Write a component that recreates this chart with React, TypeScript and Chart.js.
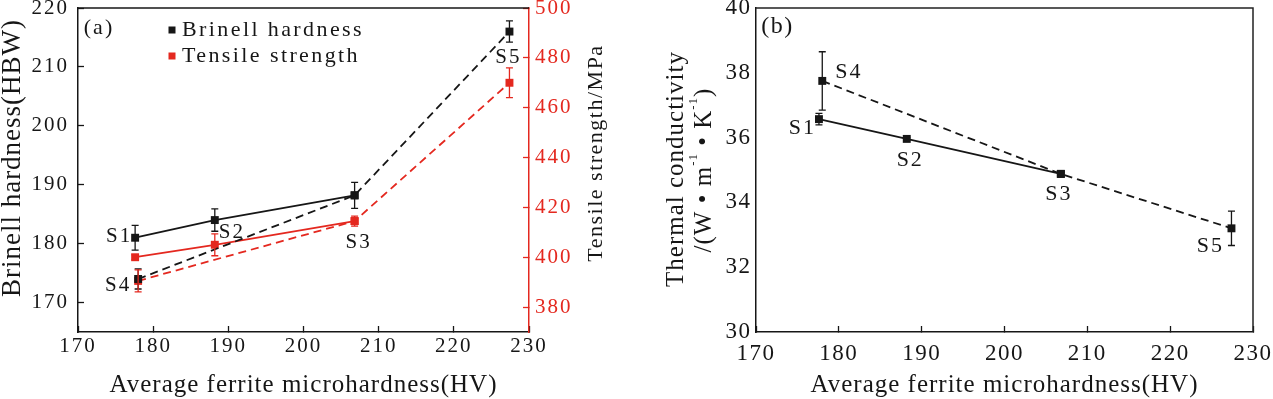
import React, { useEffect, useRef } from 'react';
import { Chart, registerables } from 'chart.js';

Chart.register(...registerables);

// ---------------- data ----------------
const samples = ['S1', 'S2', 'S3', 'S4', 'S5'];
const ferriteHV = [177.6, 188.2, 206.8, 178.0, 227.4];
const brinellHBW = [181.0, 184.0, 188.2, 174.0, 216.0];
const brinellErr = [2.1, 1.9, 2.2, 1.7, 1.8];
const tensileMPa = [400.0, 405.0, 414.5, 390.5, 470.0];
const tensileErr = [1.0, 4.4, 2.0, 4.4, 6.0];
const thermalCond = [36.57, 35.96, 34.88, 37.75, 33.2];
const thermalErr = [0.18, 0.05, 0.05, 0.9, 0.53];
const solidRoute = [0, 1, 2]; // S1 - S2 - S3
const dashedRoute = [3, 2, 4]; // S4 - S3 - S5
const hvTicks = [170, 180, 190, 200, 210, 220, 230];
const hbwTicks = [170, 180, 190, 200, 210, 220];
const mpaTicks = [380, 400, 420, 440, 460, 480, 500];
const tcTicks = [30, 32, 34, 36, 38, 40];

// ---------------- styles ----------------
const FONT = '"Liberation Serif", "Times New Roman", serif';
const BLACK = '#161616';
const RED = '#e4281f';

const tickFont = (size: number) => ({ family: FONT, size, lineHeight: 1 });
const fixW = (w: number) => (s: any) => { s.width = w; s.paddingTop = 0; s.paddingBottom = 0; };
const fixH = (h: number) => (s: any) => { s.height = h; s.paddingLeft = 0; s.paddingRight = 0; };
const setTicks = (vals: number[]) => (s: any) => { s.ticks = vals.map((v) => ({ value: v })); };

function lineDs(route: number[], ys: number[], yAxisID: string, color: string, dashed: boolean) {
  return {
    data: route.map((i) => ({ x: ferriteHV[i], y: ys[i] })),
    yAxisID,
    borderColor: color,
    backgroundColor: color,
    borderWidth: 1.8,
    borderDash: dashed ? [8, 5] : [],
    pointStyle: 'rect',
    pointRadius: 5.6,
    pointHoverRadius: 5.6,
    pointBackgroundColor: color,
    pointBorderColor: color,
    pointBorderWidth: 0,
    tension: 0,
    fill: false,
  };
}

function drawText(ctx: any, text: string, x: number, y: number, o: any) {
  ctx.save();
  ctx.font = `${o.size}px ${FONT}`;
  ctx.fillStyle = o.color || BLACK;
  ctx.textAlign = o.align || 'center';
  ctx.textBaseline = 'middle';
  ctx.letterSpacing = `${o.spacing ?? 1}px`;
  ctx.translate(x, y);
  if (o.rot) ctx.rotate(o.rot);
  ctx.fillText(text, 0, 0);
  ctx.restore();
}

function drawRich(ctx: any, segs: { t: string; sup?: boolean }[], x: number, y: number, size: number, rot: number, spacing: number) {
  ctx.save();
  ctx.translate(x, y);
  ctx.rotate(rot);
  ctx.textBaseline = 'middle';
  ctx.textAlign = 'left';
  ctx.fillStyle = BLACK;
  ctx.letterSpacing = `${spacing}px`;
  const fontOf = (s: any) => `${s.sup ? Math.round(size * 0.5) : size}px ${FONT}`;
  const widths = segs.map((s) => { ctx.font = fontOf(s); return ctx.measureText(s.t).width; });
  const total = widths.reduce((a, b) => a + b, 0);
  let cx = -total / 2;
  segs.forEach((s, i) => {
    ctx.font = fontOf(s);
    ctx.fillText(s.t, cx, s.sup ? -size * 0.42 : 0);
    cx += widths[i];
  });
  ctx.restore();
}

function drawErrBars(chart: any, yId: string, vals: number[], errs: number[], color: string) {
  const ctx = chart.ctx;
  const xs = chart.scales.x;
  const ys = chart.scales[yId];
  ctx.save();
  ctx.strokeStyle = color;
  ctx.lineWidth = 1.3;
  vals.forEach((v, i) => {
    const px = xs.getPixelForValue(ferriteHV[i]);
    const top = ys.getPixelForValue(v + errs[i]);
    const bot = ys.getPixelForValue(v - errs[i]);
    ctx.beginPath();
    ctx.moveTo(px, top); ctx.lineTo(px, bot);
    ctx.moveTo(px - 3.5, top); ctx.lineTo(px + 3.5, top);
    ctx.moveTo(px - 3.5, bot); ctx.lineTo(px + 3.5, bot);
    ctx.stroke();
  });
  ctx.restore();
}

const labelPosA = [
  { dx: -3, dy: -1, align: 'right' },
  { dx: 4, dy: 12, align: 'left' },
  { dx: 4, dy: 47, align: 'center' },
  { dx: -7, dy: 7, align: 'right' },
  { dx: -1, dy: 26, align: 'center' },
];
const labelPosB = [
  { dx: -3, dy: 9, align: 'right' },
  { dx: 3.5, dy: 21, align: 'center' },
  { dx: -2, dy: 20, align: 'center' },
  { dx: 13, dy: -9, align: 'left' },
  { dx: -21, dy: 18, align: 'center' },
];

function makeA(canvas: HTMLCanvasElement, W: number) {
  return new Chart(canvas, {
    type: 'line',
    data: {
      datasets: [
        lineDs(solidRoute, brinellHBW, 'y', BLACK, false),
        lineDs(dashedRoute, brinellHBW, 'y', BLACK, true),
        lineDs(solidRoute, tensileMPa, 'y2', RED, false),
        lineDs(dashedRoute, tensileMPa, 'y2', RED, true),
      ] as any,
    },
    options: {
      responsive: false,
      animation: false,
      events: [],
      layout: { padding: { top: 8, left: 0, right: 0, bottom: 0 } },
      plugins: { legend: { display: false }, tooltip: { enabled: false } },
      scales: {
        x: {
          type: 'linear', position: 'bottom', min: 170, max: 230,
          afterBuildTicks: setTicks(hvTicks), afterFit: fixH(67),
          border: { display: true, color: BLACK, width: 1.5 },
          grid: { display: true, drawOnChartArea: false, drawTicks: true, tickLength: -6, tickColor: BLACK, tickWidth: 1.3 },
          ticks: { font: tickFont(21), color: BLACK, padding: 9.5, maxRotation: 0, autoSkip: false },
        },
        y: {
          type: 'linear', position: 'left', min: 165, max: 220,
          afterBuildTicks: setTicks(hbwTicks), afterFit: fixW(78),
          border: { display: true, color: BLACK, width: 1.5 },
          grid: { display: true, drawOnChartArea: false, drawTicks: true, tickLength: -6, tickColor: BLACK, tickWidth: 1.3 },
          ticks: { font: tickFont(21), color: BLACK, padding: 15, autoSkip: false },
        },
        y2: {
          type: 'linear', position: 'right', min: 370, max: 500,
          afterBuildTicks: setTicks(mpaTicks), afterFit: fixW(W - 529),
          border: { display: true, color: RED, width: 1.5 },
          grid: { display: true, drawOnChartArea: false, drawTicks: true, tickLength: -6, tickColor: RED, tickWidth: 1.3 },
          ticks: { font: tickFont(21), color: RED, padding: 12, autoSkip: false },
        },
      } as any,
    },
    plugins: [
      {
        id: 'decorA',
        beforeUpdate(c: any) { c.ctx.letterSpacing = '2px'; },
        beforeDraw(c: any) { c.ctx.letterSpacing = '2px'; },
        afterDatasetsDraw(c: any) {
          drawErrBars(c, 'y', brinellHBW, brinellErr, BLACK);
          drawErrBars(c, 'y2', tensileMPa, tensileErr, RED);
        },
        afterDraw(c: any) {
          const ctx = c.ctx;
          const a = c.chartArea;
          ctx.save();
          ctx.strokeStyle = BLACK;
          ctx.lineWidth = 1.5;
          ctx.beginPath();
          ctx.moveTo(a.left, a.top);
          ctx.lineTo(a.right, a.top);
          ctx.stroke();
          ctx.restore();
          // sample labels
          samples.forEach((s, i) => {
            const p = labelPosA[i];
            const px = c.scales.x.getPixelForValue(ferriteHV[i]);
            const py = c.scales.y.getPixelForValue(brinellHBW[i]);
            drawText(ctx, s, px + p.dx, py + p.dy, { size: 21, align: p.align, spacing: 2 });
          });
          // panel tag and legend
          drawText(ctx, '(a)', a.left + 21, a.top + 20, { size: 22, spacing: 2 });
          ctx.save();
          ctx.fillStyle = BLACK;
          ctx.fillRect(a.left + 90.5, a.top + 18.5, 7, 7);
          ctx.fillStyle = RED;
          ctx.fillRect(a.left + 90.5, a.top + 44.5, 7, 7);
          ctx.restore();
          drawText(ctx, 'Brinell hardness', a.left + 104, a.top + 22, { size: 22, align: 'left', spacing: 2.4 });
          drawText(ctx, 'Tensile strength', a.left + 104, a.top + 48, { size: 22, align: 'left', spacing: 2.4 });
          // axis titles
          drawText(ctx, 'Average ferrite microhardness(HV)', (a.left + a.right) / 2, 385, { size: 25, spacing: 1 });
          drawText(ctx, 'Brinell hardness(HBW)', 13, 158, { size: 27, spacing: 1, rot: -Math.PI / 2 });
          drawText(ctx, 'Tensile strength/MPa', 596, 153, { size: 22, spacing: 1.5, rot: -Math.PI / 2 });
        },
      } as any,
    ],
  });
}

function makeB(canvas: HTMLCanvasElement, W: number) {
  return new Chart(canvas, {
    type: 'line',
    data: {
      datasets: [
        lineDs(solidRoute, thermalCond, 'y', BLACK, false),
        lineDs(dashedRoute, thermalCond, 'y', BLACK, true),
      ] as any,
    },
    options: {
      responsive: false,
      animation: false,
      events: [],
      layout: { padding: { top: 8, left: 0, right: W - 617, bottom: 0 } },
      plugins: { legend: { display: false }, tooltip: { enabled: false } },
      scales: {
        x: {
          type: 'linear', position: 'bottom', min: 170, max: 230,
          afterBuildTicks: setTicks(hvTicks), afterFit: fixH(67),
          border: { display: true, color: BLACK, width: 1.5 },
          grid: { display: true, drawOnChartArea: false, drawTicks: true, tickLength: -6, tickColor: BLACK, tickWidth: 1.3 },
          ticks: { font: tickFont(23), color: BLACK, padding: 16, maxRotation: 0, autoSkip: false },
        },
        y: {
          type: 'linear', position: 'left', min: 30, max: 40,
          afterBuildTicks: setTicks(tcTicks), afterFit: fixW(120),
          border: { display: true, color: BLACK, width: 1.5 },
          grid: { display: false, drawOnChartArea: false, drawTicks: false },
          ticks: { font: tickFont(23), color: BLACK, padding: 4.5, autoSkip: false },
        },
      } as any,
    },
    plugins: [
      {
        id: 'decorB',
        beforeUpdate(c: any) { c.ctx.letterSpacing = '1.5px'; },
        beforeDraw(c: any) { c.ctx.letterSpacing = '1.5px'; },
        afterDatasetsDraw(c: any) {
          drawErrBars(c, 'y', thermalCond, thermalErr, BLACK);
        },
        afterDraw(c: any) {
          const ctx = c.ctx;
          const a = c.chartArea;
          ctx.save();
          ctx.strokeStyle = '#222';
          ctx.lineWidth = 1.5;
          ctx.beginPath();
          ctx.moveTo(a.left, a.top);
          ctx.lineTo(a.right, a.top);
          ctx.lineTo(a.right, a.bottom);
          ctx.stroke();
          ctx.restore();
          samples.forEach((s, i) => {
            const p = labelPosB[i];
            const px = c.scales.x.getPixelForValue(ferriteHV[i]);
            const py = c.scales.y.getPixelForValue(thermalCond[i]);
            drawText(ctx, s, px + p.dx, py + p.dy, { size: 22, align: p.align, spacing: 2 });
          });
          drawText(ctx, '(b)', a.left + 21.5, a.top + 19, { size: 24, spacing: 1.5 });
          drawText(ctx, 'Average ferrite microhardness(HV)', (a.left + a.right) / 2, 385, { size: 25, spacing: 1 });
          drawText(ctx, 'Thermal conductivity', 40, 169, { size: 25, spacing: 1, rot: -Math.PI / 2 });
          drawRich(
            ctx,
            [{ t: '/(W • m' }, { t: '-1', sup: true }, { t: ' • K' }, { t: '-1', sup: true }, { t: ')' }],
            68, 170, 25, -Math.PI / 2, 1,
          );
        },
      } as any,
    ],
  });
}

function ChartCanvas({ width, height, left, make }: { width: number; height: number; left: number; make: (c: HTMLCanvasElement, w: number) => Chart }) {
  const ref = useRef<HTMLCanvasElement>(null);
  useEffect(() => {
    const chart = make(ref.current as HTMLCanvasElement, width);
    return () => chart.destroy();
  }, []);
  return (
    <canvas
      ref={ref}
      width={width}
      height={height}
      style={{ position: 'absolute', left, top: 0, width, height, display: 'block' }}
    />
  );
}

export default function App() {
  return (
    <div style={{ position: 'absolute', left: 0, top: 0, width: 1273, height: 399, background: '#fff', overflow: 'hidden' }}>
      <ChartCanvas width={636} height={399} left={0} make={makeA} />
      <ChartCanvas width={637} height={399} left={636} make={makeB} />
    </div>
  );
}
